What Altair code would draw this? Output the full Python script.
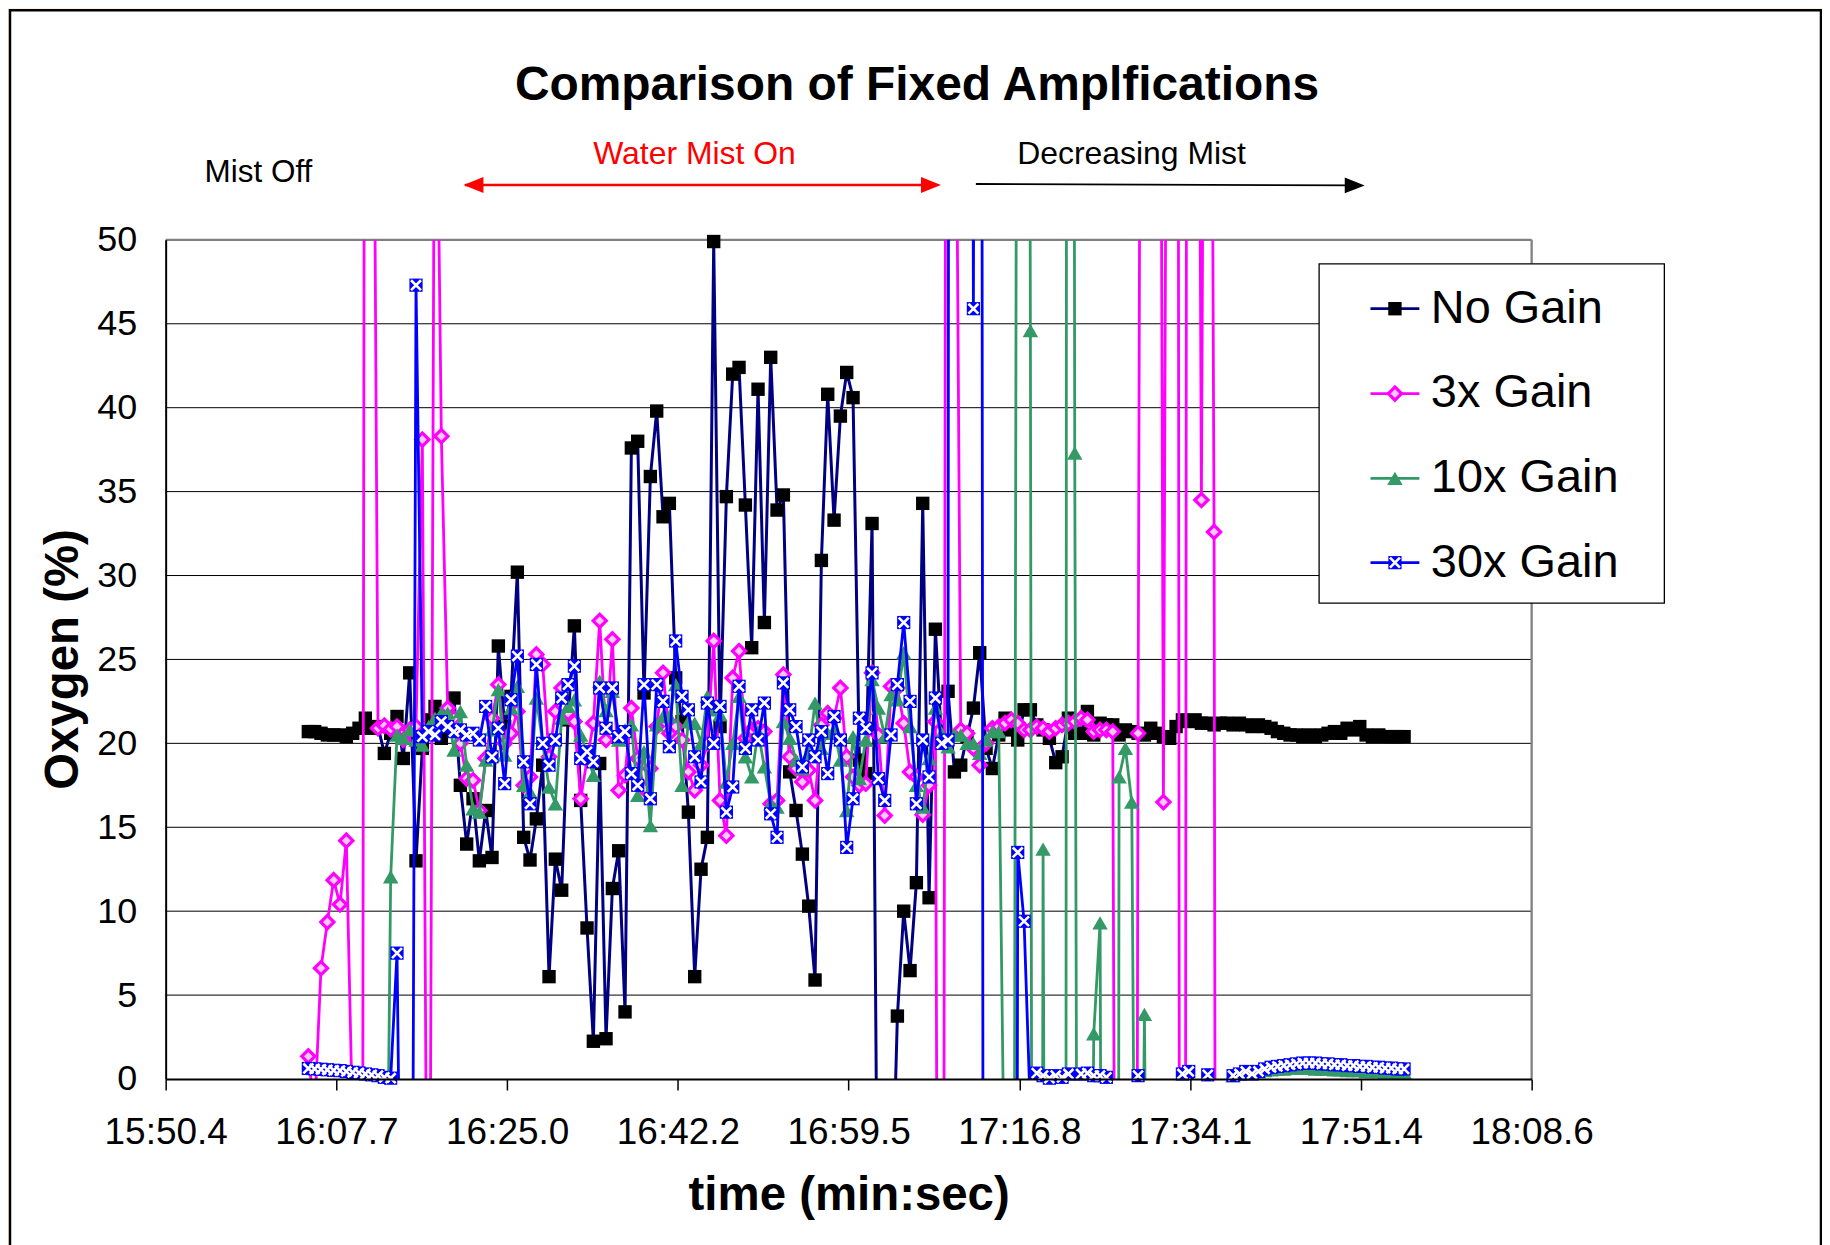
import altair as alt
import pandas as pd

# ---------------- data ----------------
series_names = ["No Gain", "3x Gain", "10x Gain", "30x Gain"]

no_gain = [
    20.7, 20.7, 20.6, 20.5, 20.5, 20.5, 20.4, 20.6, 20.9, 21.5,
    20.9, 21.0, 19.4, 20.6, 21.6, 19.1, 24.2, 13.0, 19.7, 21.4,
    22.2, 20.3, 21.5, 22.7, 17.5, 14.0, 16.7, 13.0, 16.0, 13.2,
    25.8, 21.0, 22.8, 30.2, 14.4, 13.05, 15.5, 18.7, 6.1, 13.1,
    11.25, 21.4, 27.0, 16.6, 9.0, 2.25, 18.8, 2.4, 11.35, 13.6,
    4.0, 37.6, 38.0, 23.0, 35.9, 39.8, 33.5, 34.3, 23.9, 21.3,
    15.9, 6.1, 12.5, 14.4, 49.9, 21.0, 34.7, 42.0, 42.4, 34.2,
    25.7, 41.1, 27.2, 43.0, 33.9, 34.8, 18.3, 16.0, 13.4, 10.3,
    5.9, 30.9, 40.8, 33.3, 39.5, 42.1, 40.6, 19.0, 18.2, 33.1,
    -17, -20, -10, 3.75, 10.0, 6.46, 11.7, 34.3, 10.8, 26.8,
    20.0, 23.1, 18.3, 18.7, 20.4, 22.1, 25.4, 19.7, 18.5, 20.5,
    21.5, 20.8, 20.2, 22.0, 22.0, 21.1, 20.8, 20.3, 18.85, 19.2,
    21.5, 20.6, 20.6, 21.9, 20.5, 21.2, 21.1, 21.1, 20.5, 20.8,
    20.7, 20.6, 20.5, 20.9, 20.6, 20.4, 20.3, 21.0, 21.4,
    21.3, 21.4, 21.2, 21.2, 21.1, 21.2, 21.2, 21.1, 21.2, 21.1,
    21.0, 21.1, 21.0, 20.9, 20.7, 20.6, 20.5, 20.5, 20.4, 20.5,
    20.4, 20.5, 20.6, 20.7, 20.6, 20.9, 20.8, 21.0, 20.5, 20.4,
    20.5, 20.4, 20.4, 20.4, 20.4,
]

gain_3x = [
    1.35, -2, 6.6, 9.35, 11.85, 10.4, 14.2, -3, -150, 100,
    84, 20.9, 21.05, 20.85, 21.0, 20.2, 20.8, 21.0, 38.1, -30,
    70, 38.3, 22.1, 21.5, 20.0, 17.9, 17.8, 16.0, 19.1, 21.5,
    23.5, 20.0, 20.6, 21.9, 17.5, 18.0, 25.3, 24.7, 19.2, 21.9,
    23.3, 21.8, 21.3, 16.7, 19.0, 21.2, 27.3, 20.2, 26.2, 17.2,
    18.1, 22.1, 19.1, 17.3, 18.5, 21.0, 24.2, 20.6, 21.0, 20.2,
    18.3, 17.2, 18.7, 20.0, 26.1, 16.6, 14.5, 23.9, 25.5, 20.3,
    20.8, 20.9, 20.7, 16.4, 16.6, 24.1, 19.2, 18.5, 17.7, 18.4,
    16.6, 21.1, 21.8, 21.5, 23.3, 19.2, 18.0, 17.5, 17.6, 24.2,
    20.5, 15.7, 23.4, 23.3, 21.2, 18.3, 18.0, 15.75, 17.5, 21.3,
    -85, 149, 76, 20.8, 20.6, 19.7, 18.7, 20.0, 20.9, 21.0,
    21.2, 21.4, 21.2, 20.8, 20.8, 21.0, 20.9, 20.7, 20.9, 21.1,
    21.2, 21.3, 21.5, 21.4, 20.7, 20.8, 20.8, 20.7, -80, -100,
    -150, 20.6, 150, 150, 132, 16.5, 117, 200, -200, 200,
    120, 34.5, 120, 32.6, -200,
]

gain_10x = [None] * 12 + [
    -25, 12.05, 20.5, 20.3, 20.8, 20.2, 19.9, 21.0,
    21.5, 21.8, 21.8, 19.6, 21.9, 18.7, 16.1, 15.9, 19.0, 20.8,
    23.2, 19.3, 22.1, 23.4, 17.5, 17.1, 22.7, 20.0, 17.4, 16.4,
    21.5, 22.2, 22.6, 20.5, 19.4, 18.1, 23.7, 21.95, 23.1, 20.2,
    20.8, 21.1, 16.9, 19.5, 15.1, 21.1, 21.6, 21.6, 23.5, 17.5,
    21.3, 21.2, 20.0, 22.8, 22.0, 21.7, 17.7, 20.0, 22.8, 19.2,
    18.0, 20.7, 18.6, 16.4, 16.2, 21.3, 20.3, 19.0, 18.5, 19.4,
    22.4, 19.7, 20.6, 20.8, 19.0, 16.0, 20.4, 17.9, 20.2, 23.8,
    22.1, 20.4, 22.9, 22.6, 25.4, 21.0, 17.5, 16.2, 19.1, 22.1,
    20.6, 19.8, 20.5, 20.5, 20.0, 20.0, 19.4, 20.2, 20.7, 20.7,
    -10, -100, 100, 200, 44.6, -200, 13.7, -100, -100, -500,
    300, 37.3, -100, -50, 2.7, 9.3, -100, -300, 18.0, 19.7,
    16.5, -40, 3.85, -40, -1, -1, -1, -1, -1, -1,
    -1, -1, -1, -1, -1, -1, 0.2, 0.3, 0.35, 0.4,
    0.45, 0.5, 0.55, 0.6, 0.6, 0.65, 0.65, 0.65, 0.65, 0.6,
    0.6, 0.6, 0.55, 0.55, 0.5, 0.5, 0.5, 0.45, 0.45, 0.45,
    0.4, 0.4, 0.4, 0.4,
]

gain_30x = [
    0.63, 0.6, 0.58, 0.55, 0.52, 0.5, 0.45, 0.4, 0.36, 0.3,
    0.25, 0.2, 0.1, 0.05, 7.5, -24, -58, 47.3, 20.4, 20.7,
    20.5, 21.3, 21.0, 20.7, 20.8, 20.5, 20.6, 20.2, 22.2, 19.2,
    20.9, 17.6, 22.6, 25.2, 18.9, 16.4, 24.7, 20.0, 18.7, 20.2,
    22.7, 23.5, 24.6, 19.1, 19.5, 18.9, 23.3, 20.9, 23.3, 20.4,
    20.7, 18.2, 17.5, 23.5, 16.7, 23.5, 22.5, 19.8, 26.1, 22.8,
    22.0, 19.2, 17.7, 22.4, 20.0, 22.2, 15.9, 17.4, 23.4, 19.7,
    22.0, 20.2, 22.4, 15.8, 14.4, 23.6, 22.0, 21.0, 18.6, 20.2,
    19.2, 20.7, 18.2, 21.6, 20.2, 13.8, 16.7, 21.5, 20.9, 24.2,
    17.9, 16.6, 20.5, 23.5, 27.2, 22.5, 16.4, 20.2, 18.0, 22.7,
    20.0, 20.2, 500, 500, 200, 45.9, 200, -200, -200, -200,
    -200, -200, 13.5, 9.4, -2, 0.35, 0.2, 0.05, 0.2, 0.1,
    0.3, -0.2, 0.3, 0.35, 0.2, 0.2, 0.1, -0.3, -0.3, -0.3,
    -0.3, 0.2, -0.2, -0.2, -0.2, -0.2, -0.2, -0.1, 0.3, 0.45,
    -0.3, -0.3, 0.25, -1, -1, -1, 0.2, 0.3, 0.45, 0.3,
    0.45, 0.6, 0.7, 0.75, 0.8, 0.85, 0.9, 0.95, 0.95, 0.95,
    0.9, 0.9, 0.85, 0.85, 0.8, 0.8, 0.75, 0.75, 0.7, 0.7,
    0.65, 0.65, 0.6, 0.6,
]

# readings: minutes since midnight of the first reading, and logger interval (min)
sample_start = 964.84
sample_step = 0.641

x_tick_values = [950.4, 967.68, 984.96, 1002.24, 1019.52, 1036.8, 1054.08, 1071.36, 1088.64]
x_tick_labels = ["15:50.4", "16:07.7", "16:25.0", "16:42.2", "16:59.5",
                 "17:16.8", "17:34.1", "17:51.4", "18:08.6"]
y_tick_values = [0, 5, 10, 15, 20, 25, 30, 35, 40, 45, 50]

title_text = "Comparison of Fixed Amplfications"
x_title = "time (min:sec)"
y_title = "Oxygen (%)"
phase_labels = ["Mist Off", "Water Mist On", "Decreasing Mist"]

# ---------------- build table ----------------
rows = []
for name, vals in zip(series_names, [no_gain, gain_3x, gain_10x, gain_30x]):
    for i, v in enumerate(vals):
        if v is None:
            continue
        rows.append({"time": sample_start + i * sample_step, "oxygen": v, "series": name})
df = pd.DataFrame(rows)
one = pd.DataFrame({"k": [0]})

# ---------------- styling ----------------
FONT = "Liberation Sans"
W, H = 1369, 841
line_colors = ["#000080", "#FF00FF", "#339966", "#0000FF"]
line_widths = [3.0, 2.8, 2.8, 2.8]
XPATH = "M-0.75,-0.75L0.75,0.75M0.75,-0.75L-0.75,0.75"

x_scale = alt.Scale(domain=[x_tick_values[0], x_tick_values[-1]], nice=False, zero=False)
y_scale = alt.Scale(domain=[y_tick_values[0], y_tick_values[-1]], nice=False, zero=False)

step = x_tick_values[1] - x_tick_values[0]
label_expr = ("[" + ",".join("'%s'" % s for s in x_tick_labels) + "]"
              + "[round((datum.value - %s) / %s)]" % (x_tick_values[0], step))

x_axis = alt.Axis(values=x_tick_values, labelExpr=label_expr, title=None, grid=False,
                  labelFont=FONT, labelFontSize=37, labelColor="black",
                  tickColor="black", tickSize=11, tickWidth=1.5,
                  domainColor="black", domainWidth=2, labelPadding=25,
                  labelOverlap=False, labelFlush=False, zindex=1)
y_axis = alt.Axis(values=y_tick_values, title=None, grid=False,
                  labelFont=FONT, labelFontSize=36, labelColor="black",
                  ticks=False, domainColor="black", domainWidth=2,
                  labelPadding=29, zindex=1)

X = alt.X("time:Q", scale=x_scale, axis=x_axis)
Y = alt.Y("oxygen:Q", scale=y_scale, axis=y_axis)

layers = []

# outer frame
layers.append(alt.Chart(one).mark_rect(fill="white", stroke="black", strokeWidth=2.5).encode(
    x=alt.value(-156), x2=alt.value(1659), y=alt.value(-230), y2=alt.value(1100)))

# gridlines
layers.append(alt.Chart(pd.DataFrame({"v": y_tick_values[1:-1]})).mark_rule(
    color="black", strokeWidth=1).encode(y=alt.Y("v:Q", scale=y_scale, axis=y_axis)))
# plot border (top / right)
layers.append(alt.Chart(pd.DataFrame({"v": [y_tick_values[-1]]})).mark_rule(
    color="#808080", strokeWidth=2.3).encode(y=alt.Y("v:Q", scale=y_scale, axis=y_axis)))
layers.append(alt.Chart(one).mark_rule(color="#808080", strokeWidth=2.3).encode(
    x=alt.value(W), y=alt.value(0), y2=alt.value(H)))


def marker_layers(base, idx, xenc, yenc):
    out = []
    if idx == 0:
        out.append(base.mark_point(shape="square", filled=True, color="black", size=180,
                                   opacity=1).encode(x=xenc, y=yenc))
    elif idx == 1:
        out.append(base.mark_point(shape="diamond", filled=True, fill="#FFC8FF", stroke="#FF00FF",
                                   strokeWidth=3.2, size=175, opacity=1).encode(x=xenc, y=yenc))
    elif idx == 2:
        out.append(base.mark_point(shape="triangle-up", filled=True, color="#339966", size=240,
                                   opacity=1).encode(x=xenc, y=yenc))
    else:
        out.append(base.mark_point(shape="square", filled=True, color="#0000FF", size=175,
                                   opacity=1).encode(x=xenc, y=yenc))
        out.append(base.mark_point(shape=XPATH, filled=False, color="white", strokeWidth=2.6,
                                   size=175, opacity=1).encode(x=xenc, y=yenc))
    return out


# data series, drawn series by series (line then markers)
for idx, name in enumerate(series_names):
    base = alt.Chart(df).transform_filter(alt.datum.series == name)
    layers.append(base.mark_line(color=line_colors[idx], strokeWidth=line_widths[idx],
                                 clip=True).encode(x=X, y=Y))
    pts = base.transform_filter("datum.oxygen >= 0 && datum.oxygen <= 50")
    layers.extend(marker_layers(pts, idx, X, Y))

# legend
layers.append(alt.Chart(one).mark_rect(fill="white", stroke="black", strokeWidth=1.3).encode(
    x=alt.value(1156), x2=alt.value(1502), y=alt.value(24), y2=alt.value(364)))
row_y = [69, 154, 239, 323.5]
for idx, name in enumerate(series_names):
    ly = row_y[idx]
    layers.append(alt.Chart(one).mark_rule(color=line_colors[idx], strokeWidth=2.8).encode(
        x=alt.value(1207.5), x2=alt.value(1256.5), y=alt.value(ly)))
    layers.extend(marker_layers(alt.Chart(one), idx, alt.value(1232), alt.value(ly)))
    layers.append(alt.Chart(one).mark_text(align="left", baseline="middle", font=FONT,
                                           fontSize=47, color="black").encode(
        x=alt.value(1268), y=alt.value(ly), text=alt.value(name)))

# titles and annotations
def txt(s, x, y, size, bold=False, color="black", angle=0):
    kw = dict(align="center", baseline="middle", font=FONT, fontSize=size, color=color)
    if bold:
        kw["fontWeight"] = "bold"
    if angle:
        kw["angle"] = angle
    return alt.Chart(one).mark_text(**kw).encode(x=alt.value(x), y=alt.value(y), text=alt.value(s))

layers.append(txt(title_text, 753, -154, 48, bold=True))
layers.append(txt(x_title, 685, 958, 47.5, bold=True))
layers.append(txt(y_title, -102, 420.5, 47.5, bold=True, angle=270))
layers.append(txt(phase_labels[0], 93, -67, 31.5))
layers.append(txt(phase_labels[1], 530, -86, 32, color="#FF0000"))
layers.append(txt(phase_labels[2], 968, -86, 32))

# arrows
RIGHT = "M-1,-0.8L1,0L-1,0.8Z"
LEFT = "M1,-0.8L-1,0L1,0.8Z"
layers.append(alt.Chart(one).mark_rule(color="#FF0000", strokeWidth=2.3).encode(
    x=alt.value(300), x2=alt.value(772), y=alt.value(-55)))
layers.append(alt.Chart(one).mark_point(shape=LEFT, filled=True, color="#FF0000", size=400, opacity=1).encode(
    x=alt.value(308.5), y=alt.value(-55)))
layers.append(alt.Chart(one).mark_point(shape=RIGHT, filled=True, color="#FF0000", size=400, opacity=1).encode(
    x=alt.value(767), y=alt.value(-55)))
layers.append(alt.Chart(one).mark_rule(color="black", strokeWidth=1.8).encode(
    x=alt.value(812), x2=alt.value(1196), y=alt.value(-56), y2=alt.value(-54.6)))
layers.append(alt.Chart(one).mark_point(shape=RIGHT, filled=True, color="black", size=400, opacity=1).encode(
    x=alt.value(1191.7), y=alt.value(-54.6)))

chart = alt.layer(*layers).properties(
    width=W, height=H,
    autosize=alt.AutoSizeParams(type="none"),
    padding={"left": 158, "top": 231, "right": 291, "bottom": 173},
    background="#FCF1DE",
).configure_view(stroke=None)

chart.save("out.html", embed_options={"renderer": "svg", "actions": False})
